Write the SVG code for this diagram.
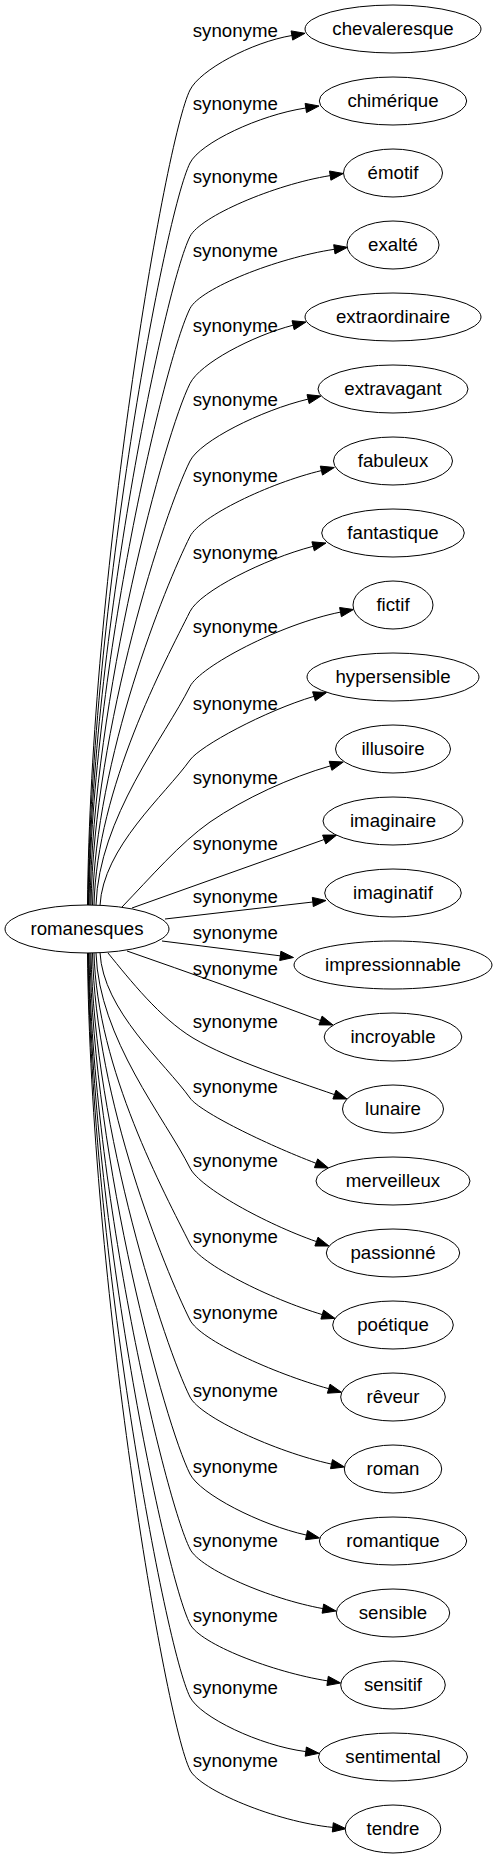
<svg xmlns="http://www.w3.org/2000/svg" width="497" height="1859" viewBox="0 0 497 1859">
<style>
.n ellipse{fill:#fff;stroke:#000;stroke-width:1}
.n text,.e text{font-family:"Liberation Sans",Arial,sans-serif;font-size:18.67px;text-anchor:middle;fill:#000}
.e path{fill:none;stroke:#000;stroke-width:1}
.e polygon{fill:#000;stroke:#000;stroke-width:1}
</style>
<rect width="497" height="1859" fill="#fff"/>
<g id="edges" class="e">
<g id="e0"><path d="M87.5,905 C90.5,579 165,140 190,90 C200,70 251.1,42.4 291.9,35.5"/><polygon points="305,33.3 292.7,40.1 291.1,30.9"/><text x="235.3" y="37">synonyme</text></g>
<g id="e1"><path d="M88,905 C91,608 165,213 190,163 C200,143 259.5,114.9 305.8,108"/><polygon points="319,106 306.5,112.6 305.1,103.4"/><text x="235.3" y="110">synonyme</text></g>
<g id="e2"><path d="M88.5,905 C91.5,637.6 165,286.5 190,236.5 C200,216.5 274.1,184.6 330.2,175.6"/><polygon points="343.3,173.5 330.9,180.2 329.5,171"/><text x="235.3" y="183">synonyme</text></g>
<g id="e3"><path d="M89,905 C92,666.4 165,358.5 190,308.5 C200,288.5 276.6,258 334.35,249.3"/><polygon points="347.5,247.3 335,253.9 333.7,244.7"/><text x="235.3" y="257">synonyme</text></g>
<g id="e4"><path d="M90,905 C93,696.4 165,433.5 190,383.5 C200,363.5 251.9,336 293.1,325.2"/><polygon points="306,322 294.2,329.7 292,320.7"/><text x="235.3" y="332">synonyme</text></g>
<g id="e5"><path d="M91,905 C94,727.4 165,511 190,461 C200,441 260.9,410.4 308.1,399.1"/><polygon points="321,396 309.2,403.6 307,394.6"/><text x="235.3" y="406">synonyme</text></g>
<g id="e6"><path d="M92.5,905 C95.5,757.6 165,586.5 190,536.5 C200,516.5 268.8,483.2 321.4,470.6"/><polygon points="334.3,467.5 322.5,475.1 320.3,466.1"/><text x="235.3" y="482">synonyme</text></g>
<g id="e7"><path d="M94,905 C97,787.6 165,661.5 190,611.5 C200,591.5 263.9,559.1 313.1,546.3"/><polygon points="326,543 314.3,550.8 311.9,541.8"/><text x="235.3" y="559">synonyme</text></g>
<g id="e8"><path d="M96,905 C99,817.6 165,736.5 190,686.5 C200,666.5 280.3,624.1 340.5,612.1"/><polygon points="353.5,609.5 341.4,616.7 339.6,607.5"/><text x="235.3" y="633">synonyme</text></g>
<g id="e9"><path d="M100,905.5 C103,847.3 165,795 190,760 C200,746 264.4,711.2 314,696.3"/><polygon points="326.7,692.5 315.3,700.8 312.6,691.8"/><text x="235.3" y="710">synonyme</text></g>
<g id="e10"><path d="M122,907 C150,878 180,843 210,822 C245,798 290,777.5 330.6,765.8"/><polygon points="343.3,762 331.9,770.3 329.2,761.3"/><text x="235.3" y="784">synonyme</text></g>
<g id="e11"><path d="M132,908 C196,885 260,862.5 324.2,839.5"/><polygon points="336.7,835 325.8,843.9 322.6,835.1"/><text x="235.3" y="850">synonyme</text></g>
<g id="e12"><path d="M165,919 L312.8,902"/><polygon points="326,900.5 313.3,906.6 312.3,897.4"/><text x="235.3" y="903">synonyme</text></g>
<g id="e13"><path d="M162,941 L280.3,955.85"/><polygon points="293.5,957.5 279.7,960.5 280.9,951.2"/><text x="235.3" y="939">synonyme</text></g>
<g id="e14"><path d="M127,951 C190,973 255,996 320.5,1020.5"/><polygon points="333,1025 318.9,1024.9 322.1,1016.1"/><text x="235.3" y="975">synonyme</text></g>
<g id="e15"><path d="M108,953 C130,980 160,1018 193,1038 C230,1060 294.5,1080.6 334.45,1094.6"/><polygon points="347,1099 332.9,1099 336,1090.2"/><text x="235.3" y="1028">synonyme</text></g>
<g id="e16"><path d="M100,952.5 C103,1010.7 165,1063 190,1098 C200,1112 265.7,1144.1 316.1,1163.3"/><polygon points="328.5,1168 314.4,1167.7 317.7,1158.9"/><text x="235.3" y="1093">synonyme</text></g>
<g id="e17"><path d="M96,953 C99,1039 165,1118 190,1168 C200,1188 265.9,1223.9 316.45,1241.6"/><polygon points="329,1246 314.9,1246 318,1237.2"/><text x="235.3" y="1167">synonyme</text></g>
<g id="e18"><path d="M94,953 C97,1069.4 165,1194 190,1244 C200,1264 269.4,1298.7 322.3,1314.6"/><polygon points="335,1318.4 320.9,1319.1 323.6,1310.1"/><text x="235.3" y="1243">synonyme</text></g>
<g id="e19"><path d="M92.5,953 C95.5,1099.8 165,1270 190,1320 C200,1340 273.2,1373.2 328.7,1388.7"/><polygon points="341.5,1392.3 327.4,1393.2 330,1384.2"/><text x="235.3" y="1319">synonyme</text></g>
<g id="e20"><path d="M91,953 C94,1130.6 165,1347 190,1397 C200,1417 274.9,1451.6 331.5,1464.1"/><polygon points="344.5,1467 330.5,1468.7 332.5,1459.6"/><text x="235.3" y="1397">synonyme</text></g>
<g id="e21"><path d="M90,953 C93,1161.4 165,1424 190,1474 C200,1494 259.9,1524.8 306.5,1535.1"/><polygon points="319.5,1538 305.5,1539.7 307.5,1530.5"/><text x="235.3" y="1473">synonyme</text></g>
<g id="e22"><path d="M89,953 C92,1191.4 165,1499 190,1549 C200,1569 269.7,1599 322.9,1608.6"/><polygon points="336,1611 322.1,1613.2 323.7,1604"/><text x="235.3" y="1547">synonyme</text></g>
<g id="e23"><path d="M88.5,953 C91.5,1221.4 165,1574 190,1624 C200,1644 272.6,1672.1 327.6,1680.9"/><polygon points="340.7,1683 326.9,1685.5 328.3,1676.3"/><text x="235.3" y="1622">synonyme</text></g>
<g id="e24"><path d="M88,953 C91,1250.6 165,1647 190,1697 C200,1717 259.5,1745.6 305.8,1751.6"/><polygon points="319,1753.3 305.2,1756.2 306.4,1747"/><text x="235.3" y="1694">synonyme</text></g>
<g id="e25"><path d="M87.5,953 C90.5,1279.8 165,1720 190,1770 C200,1790 275.7,1821.7 332.8,1827.4"/><polygon points="346,1828.7 332.3,1832 333.3,1822.7"/><text x="235.3" y="1767">synonyme</text></g>
</g>
<g id="romanesques" class="n"><ellipse cx="87" cy="929" rx="82" ry="24"/><text x="87" y="935">romanesques</text></g>
<g id="chevaleresque" class="n"><ellipse cx="393" cy="29" rx="88" ry="24"/><text x="393" y="35">chevaleresque</text></g>
<g id="chimerique" class="n"><ellipse cx="393" cy="101" rx="73.7" ry="24"/><text x="393" y="107">chimérique</text></g>
<g id="emotif" class="n"><ellipse cx="393" cy="173" rx="49.5" ry="24"/><text x="393" y="179">émotif</text></g>
<g id="exalte" class="n"><ellipse cx="393" cy="245" rx="46" ry="24"/><text x="393" y="251">exalté</text></g>
<g id="extraordinaire" class="n"><ellipse cx="393" cy="317" rx="88" ry="24"/><text x="393" y="323">extraordinaire</text></g>
<g id="extravagant" class="n"><ellipse cx="393" cy="389" rx="75" ry="24"/><text x="393" y="395">extravagant</text></g>
<g id="fabuleux" class="n"><ellipse cx="393" cy="461" rx="59.5" ry="24"/><text x="393" y="467">fabuleux</text></g>
<g id="fantastique" class="n"><ellipse cx="393" cy="533" rx="71.3" ry="24"/><text x="393" y="539">fantastique</text></g>
<g id="fictif" class="n"><ellipse cx="393" cy="605" rx="40" ry="24"/><text x="393" y="611">fictif</text></g>
<g id="hypersensible" class="n"><ellipse cx="393" cy="677" rx="86" ry="24"/><text x="393" y="683">hypersensible</text></g>
<g id="illusoire" class="n"><ellipse cx="393" cy="749" rx="57.5" ry="24"/><text x="393" y="755">illusoire</text></g>
<g id="imaginaire" class="n"><ellipse cx="393" cy="821" rx="70" ry="24"/><text x="393" y="827">imaginaire</text></g>
<g id="imaginatif" class="n"><ellipse cx="393" cy="893" rx="68.3" ry="24"/><text x="393" y="899">imaginatif</text></g>
<g id="impressionnable" class="n"><ellipse cx="393" cy="965" rx="99" ry="24"/><text x="393" y="971">impressionnable</text></g>
<g id="incroyable" class="n"><ellipse cx="393" cy="1037" rx="68.8" ry="24"/><text x="393" y="1043">incroyable</text></g>
<g id="lunaire" class="n"><ellipse cx="393" cy="1109" rx="50.5" ry="24"/><text x="393" y="1115">lunaire</text></g>
<g id="merveilleux" class="n"><ellipse cx="393" cy="1181" rx="77" ry="24"/><text x="393" y="1187">merveilleux</text></g>
<g id="passionne" class="n"><ellipse cx="393" cy="1253" rx="66.7" ry="24"/><text x="393" y="1259">passionné</text></g>
<g id="poetique" class="n"><ellipse cx="393" cy="1325" rx="60.3" ry="24"/><text x="393" y="1331">poétique</text></g>
<g id="reveur" class="n"><ellipse cx="393" cy="1397" rx="52.3" ry="24"/><text x="393" y="1403">rêveur</text></g>
<g id="roman" class="n"><ellipse cx="393" cy="1469" rx="48.7" ry="24"/><text x="393" y="1475">roman</text></g>
<g id="romantique" class="n"><ellipse cx="393" cy="1541" rx="73.7" ry="24"/><text x="393" y="1547">romantique</text></g>
<g id="sensible" class="n"><ellipse cx="393" cy="1613" rx="56.7" ry="24"/><text x="393" y="1619">sensible</text></g>
<g id="sensitif" class="n"><ellipse cx="393" cy="1685" rx="52.3" ry="24"/><text x="393" y="1691">sensitif</text></g>
<g id="sentimental" class="n"><ellipse cx="393" cy="1757" rx="74.5" ry="24"/><text x="393" y="1763">sentimental</text></g>
<g id="tendre" class="n"><ellipse cx="393" cy="1829" rx="47.8" ry="24"/><text x="393" y="1835">tendre</text></g>
</svg>
